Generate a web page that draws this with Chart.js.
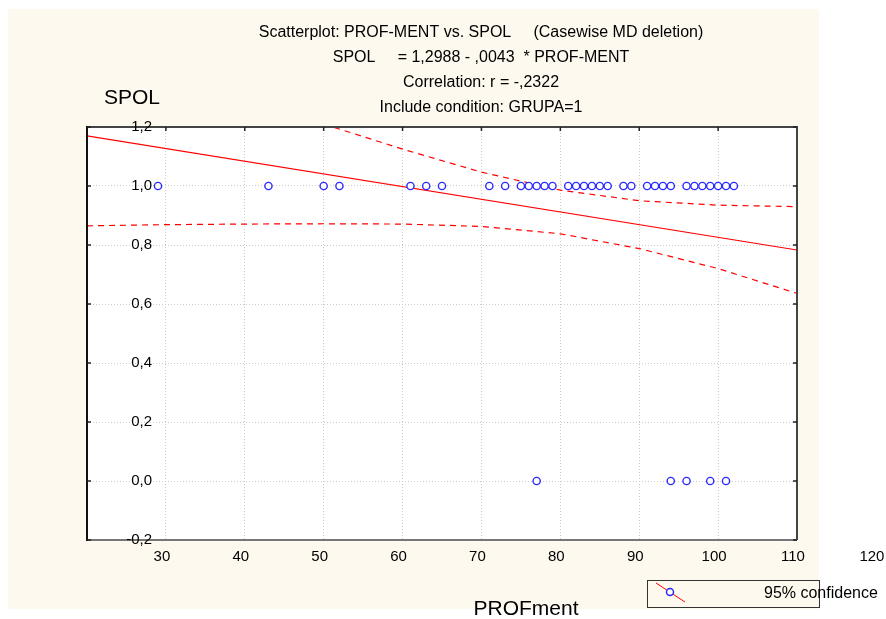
<!DOCTYPE html>
<html>
  <head>
    <title>Scatterplot PROF-MENT vs SPOL</title>
    <style>
      body { margin: 0; background: #ffffff; }
      .chart-container { width: 886px; height: 619px; }
    </style>
  </head>
  <body>
    <div class="chart-container">
      <canvas id="mycanvas" width="886" height="619"></canvas>
    </div>

    <script type="text/javascript" src="https://cdn.jsdelivr.net/npm/chart.js@4/dist/chart.umd.min.js"></script>
    <script>
      // cases (PROF-MENT, SPOL)
      var profMent = [39, 53, 60, 62, 71, 73, 75, 81, 83, 85, 86, 87, 88, 89, 91, 92, 93, 94, 95, 96,
                      98, 99, 101, 102, 103, 104, 106, 107, 108, 109, 110, 111, 112,
                      87, 104, 106, 109, 111];
      var spol = [1, 1, 1, 1, 1, 1, 1, 1, 1, 1, 1, 1, 1, 1, 1, 1, 1, 1, 1, 1,
                  1, 1, 1, 1, 1, 1, 1, 1, 1, 1, 1, 1, 1,
                  0, 0, 0, 0, 0];

      // regression line ends
      var fitX = [30, 120];
      var fitY = [1.170, 0.783];

      // 95% confidence bands
      var upperX = [60, 70, 80, 90, 100, 110, 120];
      var upperY = [1.21, 1.125, 1.047, 0.986, 0.950, 0.935, 0.930];
      var lowerX = [30, 40, 50, 60, 70, 80, 90, 100, 110, 120];
      var lowerY = [0.865, 0.869, 0.871, 0.872, 0.871, 0.863, 0.838, 0.788, 0.720, 0.636];

      // tick labels (the x labels sit one grid step to the left, as in the original)
      var xTickLabels = ['30', '40', '50', '60', '70', '80', '90', '100', '110', '120'];
      var xTickValues = [40, 50, 60, 70, 80, 90, 100, 110, 120, 130];
      var yTickLabels = ['1,2', '1,0', '0,8', '0,6', '0,4', '0,2', '0,0', '-0,2'];
      var yTickValues = [1.2, 1.0, 0.8, 0.6, 0.4, 0.2, 0.0, -0.2];

      var titleLines = [
        'Scatterplot: PROF-MENT vs. SPOL     (Casewise MD deletion)',
        'SPOL     = 1,2988 - ,0043  * PROF-MENT',
        'Correlation: r = -,2322',
        'Include condition: GRUPA=1'
      ];

      function toPoints(xs, ys) {
        var out = [];
        for (var i = 0; i < xs.length; i++) out.push({x: xs[i], y: ys[i]});
        return out;
      }

      var FONT = '"Liberation Sans", Arial, sans-serif';

      var statPlugin = {
        id: 'stat',
        beforeDraw: function(chart) {
          var ctx = chart.ctx, a = chart.chartArea;
          ctx.save();
          ctx.fillStyle = '#fef9ee';
          ctx.fillRect(8, 9, 811, 600);
          ctx.fillStyle = '#ffffff';
          ctx.fillRect(a.left, a.top, a.right - a.left, a.bottom - a.top);
          ctx.restore();
        },
        afterDraw: function(chart) {
          var ctx = chart.ctx, a = chart.chartArea;
          var xs = chart.scales.x, ys = chart.scales.y;
          ctx.save();

          // frame
          ctx.lineWidth = 2;
          ctx.strokeStyle = '#444';
          ctx.beginPath(); ctx.moveTo(a.left, a.top); ctx.lineTo(a.right, a.top); ctx.lineTo(a.right, a.bottom); ctx.stroke();
          ctx.strokeStyle = '#777';
          ctx.beginPath(); ctx.moveTo(a.left, a.bottom); ctx.lineTo(a.right, a.bottom); ctx.stroke();
          ctx.strokeStyle = '#111';
          ctx.beginPath(); ctx.moveTo(a.left, a.top - 1); ctx.lineTo(a.left, a.bottom + 1); ctx.stroke();

          // small inward ticks
          ctx.lineWidth = 1.5;
          ctx.strokeStyle = '#222';
          ctx.beginPath();
          for (var i = 0; i < yTickValues.length; i++) {
            var py = ys.getPixelForValue(yTickValues[i]);
            ctx.moveTo(a.left, py); ctx.lineTo(a.left + 4, py);
            ctx.moveTo(a.right, py); ctx.lineTo(a.right - 4, py);
          }
          for (var v = 40; v < 120; v += 10) {
            var px = xs.getPixelForValue(v);
            ctx.moveTo(px, a.top); ctx.lineTo(px, a.top + 4);
          }
          ctx.stroke();

          // tick labels
          ctx.fillStyle = '#000';
          ctx.font = '15px ' + FONT;
          ctx.textBaseline = 'middle';
          ctx.textAlign = 'right';
          for (var j = 0; j < yTickLabels.length; j++) {
            ctx.fillText(yTickLabels[j], 152, ys.getPixelForValue(yTickValues[j]));
          }
          ctx.textAlign = 'center';
          for (var k = 0; k < xTickLabels.length; k++) {
            ctx.fillText(xTickLabels[k], xs.getPixelForValue(xTickValues[k]) - 4, 557);
          }

          // titles
          ctx.font = '16px ' + FONT;
          for (var t = 0; t < titleLines.length; t++) {
            ctx.fillText(titleLines[t], 481, 33 + t * 24.7);
          }

          // axis titles
          ctx.font = '21px ' + FONT;
          ctx.fillText('SPOL', 132, 98);
          ctx.fillText('PROFment', 526, 609);

          // legend
          ctx.lineWidth = 1;
          ctx.strokeStyle = '#333';
          ctx.strokeRect(647.5, 580.5, 172, 27);
          ctx.strokeStyle = '#ff0000';
          ctx.beginPath(); ctx.moveTo(656, 583); ctx.lineTo(685, 602); ctx.stroke();
          ctx.fillStyle = '#ffffff';
          ctx.strokeStyle = '#2a2aff';
          ctx.lineWidth = 1.5;
          ctx.beginPath(); ctx.arc(670, 592, 3.5, 0, Math.PI * 2); ctx.fill(); ctx.stroke();
          ctx.fillStyle = '#000';
          ctx.font = '16px ' + FONT;
          ctx.textAlign = 'left';
          ctx.fillText('95% confidence', 764, 594);

          ctx.restore();
        }
      };

      var chartdata = {
        datasets: [
          {
            label: 'SPOL',
            data: toPoints(profMent, spol),
            showLine: false,
            pointRadius: 3.6,
            pointBorderWidth: 1.4,
            pointBorderColor: '#2a2aff',
            pointBackgroundColor: '#ffffff',
            order: 0
          },
          {
            label: 'fit',
            data: toPoints(fitX, fitY),
            showLine: true,
            borderColor: '#ff0000',
            borderWidth: 1.2,
            pointRadius: 0,
            order: 1
          },
          {
            label: 'upper 95%',
            data: toPoints(upperX, upperY),
            showLine: true,
            borderColor: '#ff0000',
            borderWidth: 1.2,
            borderDash: [6, 5],
            pointRadius: 0,
            order: 2
          },
          {
            label: 'lower 95%',
            data: toPoints(lowerX, lowerY),
            showLine: true,
            borderColor: '#ff0000',
            borderWidth: 1.2,
            borderDash: [6, 5],
            pointRadius: 0,
            order: 3
          }
        ]
      };

      var ctx = document.getElementById('mycanvas');

      var ScatterGraph = new Chart(ctx, {
        type: 'scatter',
        data: chartdata,
        plugins: [statPlugin],
        options: {
          responsive: false,
          animation: false,
          layout: { padding: { left: 87, right: 89, top: 127, bottom: 79 } },
          plugins: {
            legend: { display: false },
            title: { display: false },
            tooltip: { enabled: false }
          },
          scales: {
            x: {
              type: 'linear',
              min: 30,
              max: 120,
              ticks: { display: false, stepSize: 10 },
              grid: { color: '#cccccc', lineWidth: 1, drawTicks: false },
              border: { display: false, dash: [1, 2] }
            },
            y: {
              type: 'linear',
              min: -0.2,
              max: 1.2,
              ticks: { display: false, stepSize: 0.2 },
              grid: { color: '#cccccc', lineWidth: 1, drawTicks: false },
              border: { display: false, dash: [1, 2] }
            }
          }
        }
      });
    </script>
  </body>
</html>
